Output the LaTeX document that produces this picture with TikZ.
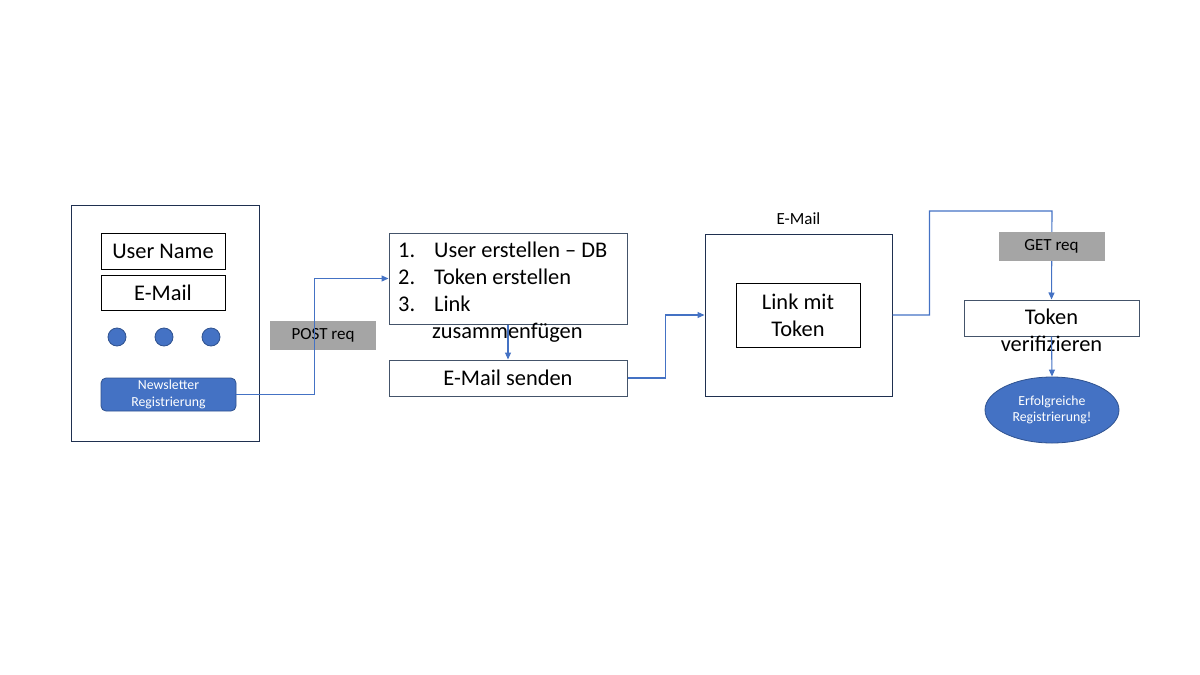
\documentclass[tikz,border=0pt]{standalone}
\usepackage{fontspec}
\setmainfont{Carlito}
\usetikzlibrary{positioning,shapes.geometric,arrows.meta}
\definecolor{accent}{HTML}{4472C4}
\definecolor{accentdark}{HTML}{2F528F}
\definecolor{frame}{HTML}{1F3050}
\definecolor{reqgray}{HTML}{A5A5A5}
\definecolor{boxline}{HTML}{44546A}
\newcommand{\bigtext}{\fontsize{22.4}{26.8}\selectfont}
\newcommand{\midtext}{\fontsize{17}{20}\selectfont}
\newcommand{\smalltext}{\fontsize{13.8}{16.6}\selectfont}

\begin{document}
\begin{tikzpicture}[x=1pt,y=-1pt,
    panel/.style ={draw=frame, line width=1pt, inner sep=0pt},
    field/.style ={draw=black, line width=1pt, inner sep=0pt, minimum width=124pt, font=\bigtext},
    dot/.style ={circle, fill=accent, draw=accentdark, line width=0.8pt, minimum size=18pt, inner sep=0pt},
    button/.style ={rounded corners=5pt, fill=accent, draw=accentdark, line width=0.8pt, text=white, align=center, font=\smalltext, inner sep=0pt},
    request/.style ={fill=reqgray, minimum width=106pt, minimum height=29pt, inner sep=0pt, font=\midtext},
    stepbox/.style ={draw=boxline, line width=1pt, inner sep=0pt},
    pointer/.style ={draw=accent, line width=1.1pt, -{Triangle[length=7pt,width=6pt]}}]
   \useasboundingbox (0,0) rectangle (1200,675);
   % form
   \node[panel, minimum width=188pt, minimum height=236pt] (form) at (165,323) {};
   \node[field, minimum height=36pt] (user) at (163,251) {User Name};
   \node[field, minimum height=35pt] (mailfield) at (163,292.5) {E-Mail};
   \node[dot] (d1) at (117,337) {};
   \node[dot] (d2) at (164,337) {};
   \node[dot] (d3) at (211,337) {};
   \node[button, minimum width=135pt, minimum height=33pt] (btn) at (168.5,394.5) {Newsletter\\Registrierung};
   \node[request] (post) at (323,335.5) {POST req};
   % server steps
   \node[stepbox, minimum width=238pt, minimum height=91pt] (steps) at (508,278.5) {};
   \node[font=\bigtext, align=left, anchor=north west, inner sep=0pt] (stepstext) at (398,242)
      {1.\hspace{19pt}User erstellen -- DB\\2.\hspace{19pt}Token erstellen\\3.\hspace{19pt}Link\\\hspace{34pt}zusammenfügen};
   \node[stepbox, minimum width=238pt, minimum height=36pt, font=\bigtext] (send) at (508,378) {E-Mail senden};
   % mail
   \node[panel, minimum width=187pt, minimum height=162pt,
      label={[font=\midtext, label distance=5pt]above:E-Mail}] (mail) at (798.5,315) {};
   \node[field, minimum height=64pt, align=center] (link) at (798,315) {Link mit\\Token};
   % verify
   \node[stepbox, minimum width=175pt, minimum height=36pt] (verify) at (1051.5,318) {};
   \node[font=\bigtext, align=center, anchor=north, inner sep=0pt] (verifytext) at (1051.5,309) {Token\\verifizieren};
   \node[ellipse, fill=accent, draw=accentdark, line width=0.8pt, minimum width=134pt, minimum height=66pt,
      inner sep=0pt, text=white, align=center, font=\smalltext] (done) at (1052,410) {Erfolgreiche\\Registrierung!};
   \coordinate (turn) at (1052,211);
   % connectors
   \draw[pointer] (btn.east) -- ++(78,0) |- (steps.west);
   \draw[pointer] (steps.south) -- (send.north);
   \draw[pointer] (send.east) -- ++(38,0) |- (mail.west);
   \draw[pointer] (mail.east) -- ++(37,0) |- (turn) -- (verify.north);
   \draw[pointer] (verify.south) -- (done.north);
   \node[request] (get) at (1051.5,246.5) {GET req};
\end{tikzpicture}
\end{document}
